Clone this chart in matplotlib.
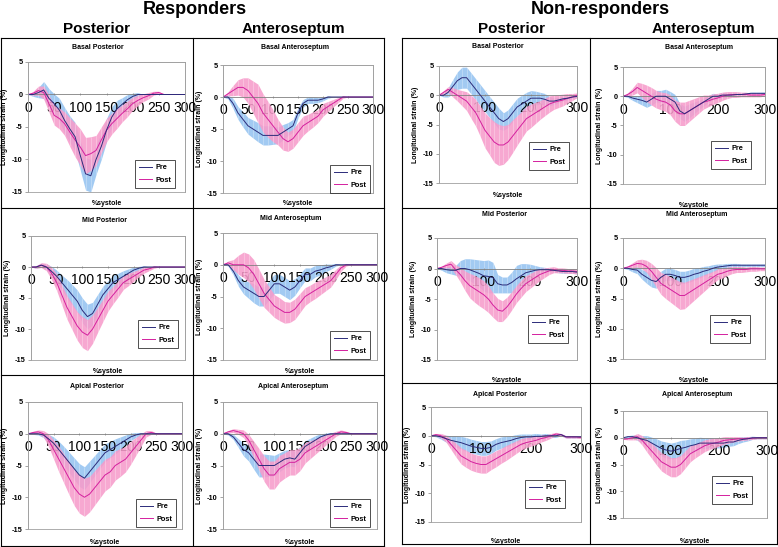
import matplotlib
matplotlib.use("Agg")
import matplotlib.pyplot as plt
from matplotlib.lines import Line2D
from matplotlib.patches import Rectangle

plt.rcParams['font.family'] = ['Liberation Sans', 'DejaVu Sans']

# % systole sample points
pct = [0, 10, 20, 30, 40, 50, 60, 70, 80, 90, 100, 110, 120, 130, 140, 150,
       160, 170, 180, 190, 200, 210, 220, 230, 240, 250, 260, 270, 280, 290, 300]

# ---------------- Responders ----------------
r_bp_pre = [0, 0, 0.3, 0.7, -0.6, -1.4, -2.4, -4, -5.3, -6.5, -9.4, -12.2, -12.5, -10, -8, -5.5,
            -3.5, -2.2, -1.5, -0.8, -0.3, 0, 0, 0, 0, 0, 0, 0, 0, 0, 0]
r_bp_pre_sd = [0, 0.3, 0.8, 1.3, 1.5, 1.5, 1.8, 2, 2, 2.2, 2.3, 2.5, 2.5, 2.3, 2, 1.8,
               1.6, 1.3, 1, 0.8, 0.5, 0.3, 0, 0, 0, 0, 0, 0, 0, 0, 0]
r_bp_post = [0, 0.2, 0.6, 0.3, -1.4, -3.2, -3.7, -4.5, -5.8, -7, -8.1, -9.4, -9.1, -8.6, -7, -5.5,
             -4.5, -3.7, -2.9, -2.2, -1.4, -0.9, -0.5, -0.2, 0.2, 0.3, 0, 0, 0, 0, 0]
r_bp_post_sd = [0, 0.3, 0.7, 1, 1.3, 1.5, 1.6, 1.8, 2.2, 2.6, 2.8, 2.8, 2.6, 2.3, 2, 1.8,
                1.6, 1.5, 1.3, 1.2, 1, 0.8, 0.6, 0.5, 0.3, 0.2, 0, 0, 0, 0, 0]

r_ba_pre = [0, 0, -1, -2.5, -3.5, -4.5, -5, -5.5, -6, -6, -6, -6, -5.5, -5, -4.5, -2.5,
            -1, -0.5, -0.5, -0.5, -0.3, 0, 0, 0, 0, 0, 0, 0, 0, 0, 0]
r_ba_pre_sd = [0, 0.3, 0.8, 1, 1.2, 1.3, 1.4, 1.5, 1.5, 1.5, 1.4, 1.3, 1.2, 1, 1, 0.8,
               0.6, 0.5, 0.5, 0.4, 0.3, 0.2, 0, 0, 0, 0, 0, 0, 0, 0, 0]
r_ba_post = [0, 0.5, 1, 1.5, 1.5, 1, 0, -1, -2.5, -3.5, -4.5, -5.5, -6.5, -7, -6.5, -5.5,
             -4.5, -4, -3.5, -3, -2, -1.5, -1, -0.5, 0, 0, 0, 0, 0, 0, 0]
r_ba_post_sd = [0, 0.3, 0.8, 1.2, 1.5, 2, 2.5, 3, 3, 2.8, 2.5, 2, 1.8, 1.5, 1.5, 1.5,
                1.5, 1.3, 1.2, 1, 1, 0.8, 0.6, 0.4, 0.2, 0, 0, 0, 0, 0, 0]

r_mp_pre = [0, 0, 0.3, 0, -0.7, -1.5, -2.5, -3.5, -4.5, -5.5, -7, -8, -7.5, -6, -4.5, -3.5,
            -2.5, -2, -1.5, -1, -0.5, -0.2, 0, 0, 0, 0, 0, 0, 0, 0, 0]
r_mp_pre_sd = [0, 0.2, 0.3, 0.5, 0.8, 1, 1.2, 1.5, 1.7, 1.8, 2, 2, 1.8, 1.6, 1.4, 1.3,
               1.2, 1, 0.9, 0.7, 0.5, 0.3, 0.2, 0, 0, 0, 0, 0, 0, 0, 0]
r_mp_post = [0, 0, 0.3, 0, -1, -2.5, -4.5, -6.5, -8, -9.5, -10.5, -11, -10, -8.5, -7, -5.5,
             -4.5, -3.5, -2.5, -2, -1.5, -1, -0.5, -0.3, 0, 0, 0, 0, 0, 0, 0]
r_mp_post_sd = [0, 0.2, 0.4, 0.6, 1, 1.3, 1.6, 1.9, 2.1, 2.3, 2.5, 2.5, 2.3, 2, 1.8, 1.6,
                1.4, 1.3, 1.1, 1, 0.8, 0.6, 0.5, 0.3, 0.2, 0, 0, 0, 0, 0, 0]

r_ma_pre = [0, 0, -1, -2.5, -3.5, -4, -4.5, -5, -5, -4, -3, -3, -3.5, -4, -3.5, -2.5,
            -1.5, -1.5, -1, -0.8, -0.5, -0.3, 0, 0, 0, 0, 0, 0, 0, 0, 0]
r_ma_pre_sd = [0, 0.2, 0.6, 0.9, 1.1, 1.3, 1.5, 1.5, 1.5, 1.5, 1.5, 1.5, 1.5, 1.5, 1.3, 1.1,
               1, 1, 0.9, 0.8, 0.6, 0.4, 0.2, 0, 0, 0, 0, 0, 0, 0, 0]
r_ma_post = [0, 0.3, 0, 0, 0, -0.5, -1.5, -3, -4.5, -5.5, -6.5, -7, -7.5, -7.5, -7, -6,
             -5, -4.5, -4, -3.5, -3, -2.5, -1.5, -0.5, 0, 0, 0, 0, 0, 0, 0]
r_ma_post_sd = [0, 0.3, 0.8, 1.5, 2, 2.2, 2.3, 2.3, 2.2, 2, 1.8, 1.8, 1.7, 1.6, 1.6, 1.5,
                1.4, 1.3, 1.3, 1.2, 1.1, 1, 0.8, 0.5, 0.2, 0, 0, 0, 0, 0, 0]

r_ap_pre = [0, 0, 0, -0.2, -0.8, -1.5, -2.5, -3.5, -4.5, -5.5, -6.5, -7, -6, -5, -4, -3,
            -2.5, -2, -1.5, -1, -0.5, -0.2, 0, 0, 0, 0, 0, 0, 0, 0, 0]
r_ap_pre_sd = [0, 0.1, 0.2, 0.4, 0.7, 1, 1.3, 1.5, 1.6, 1.7, 1.8, 1.8, 1.7, 1.6, 1.5, 1.4,
               1.3, 1.2, 1, 0.8, 0.6, 0.4, 0.2, 0, 0, 0, 0, 0, 0, 0, 0]
r_ap_post = [0, 0.2, 0.3, 0, -1, -2.5, -4, -5.5, -7, -8.5, -9.5, -10, -9.5, -8.5, -7.5, -6.5,
             -6, -5, -4.5, -4, -3, -2, -1, 0, 0.2, 0, 0, 0, 0, 0, 0]
r_ap_post_sd = [0, 0.2, 0.3, 0.5, 1, 1.5, 2, 2.3, 2.6, 2.8, 3, 3, 2.8, 2.7, 2.6, 2.5,
                2.4, 2.3, 2.2, 2, 1.8, 1.4, 1, 0.5, 0.3, 0.1, 0, 0, 0, 0, 0]

r_aa_pre = [0, 0, -0.5, -1.5, -2.5, -3, -4, -5, -5, -5, -5, -4.5, -4, -3.8, -4, -3,
            -2, -1.5, -1, -0.5, -0.2, 0, 0, 0, 0, 0, 0, 0, 0, 0, 0]
r_aa_pre_sd = [0, 0.2, 0.4, 0.7, 1, 1.3, 1.6, 1.8, 1.8, 1.7, 1.6, 1.5, 1.4, 1.3, 1.2, 1,
               0.9, 0.8, 0.7, 0.5, 0.3, 0.2, 0, 0, 0, 0, 0, 0, 0, 0, 0]
r_aa_post = [0, 0.3, 0.5, 0.3, 0, -1, -2.5, -4, -5.5, -6.5, -6.5, -5.5, -5, -4.5, -4.5, -4,
             -3, -2.5, -2, -1.5, -1, -0.5, 0, 0.3, 0.2, 0, 0, 0, 0, 0, 0]
r_aa_post_sd = [0, 0.2, 0.3, 0.4, 0.6, 0.9, 1.3, 1.7, 2, 2.2, 2.2, 2.1, 2, 2, 2, 1.8,
                1.6, 1.4, 1.2, 1, 0.8, 0.6, 0.4, 0.3, 0.2, 0, 0, 0, 0, 0, 0]

# ---------------- Non-responders ----------------
n_bp_pre = [0, 0, 0.5, 1.5, 2.5, 3, 3, 2, 1, 0, -1, -2, -3, -4, -4.5, -4,
            -3, -2, -1.5, -1, -0.5, -0.5, -0.5, -0.7, -1, -1, -0.8, -0.6, -0.5, -0.3, -0.2]
n_bp_pre_sd = [0, 0.3, 0.8, 1.2, 1.5, 1.8, 1.8, 1.8, 1.8, 1.8, 1.8, 1.8, 1.8, 1.8, 1.5, 1.5,
               1.5, 1.5, 1.5, 1.5, 1.3, 1.2, 1, 1, 0.8, 0.6, 0.5, 0.4, 0.3, 0.2, 0.2]
n_bp_post = [0, 0.5, 1, 0.5, 0, -0.5, -1, -2, -3, -4.5, -6, -7, -8, -8.5, -8.5, -8,
             -7, -6, -5, -4, -3.5, -3, -2.5, -2, -1.5, -1.2, -1, -0.8, -0.5, -0.3, 0]
n_bp_post_sd = [0, 0.3, 0.5, 0.8, 1, 1.3, 1.6, 2, 2.3, 2.6, 3, 3.2, 3.5, 3.5, 3.3, 3,
                2.8, 2.5, 2.3, 2.1, 2, 1.8, 1.6, 1.5, 1.4, 1.2, 1.1, 1, 0.8, 0.6, 0.4]

n_ba_pre = [0, 0, -0.3, -0.5, -0.7, -1, -0.5, 0, 0, 0, -0.5, -1, -2.5, -3, -2.5, -2,
            -1.5, -1, -0.5, 0, 0, 0.2, 0.2, 0.2, 0.3, 0.3, 0.4, 0.5, 0.5, 0.5, 0.5]
n_ba_pre_sd = [0, 0.2, 0.4, 0.6, 0.8, 0.9, 1, 1, 1, 1.2, 1.3, 1.3, 1.3, 1.3, 1.2, 1,
               0.8, 0.7, 0.6, 0.5, 0.4, 0.4, 0.3, 0.3, 0.3, 0.2, 0.2, 0.2, 0.2, 0.2, 0.2]
n_ba_post = [0, 0.3, 0.8, 1.5, 1, 0.5, 0, -0.5, -0.8, -1, -1.5, -2.5, -3, -3, -2.5, -2,
             -1.5, -1, -0.8, -0.5, -0.3, 0, 0.2, 0.3, 0.3, 0.3, 0.3, 0.2, 0.2, 0.2, 0.3]
n_ba_post_sd = [0, 0.3, 0.6, 0.9, 1.2, 1.4, 1.5, 1.5, 1.5, 1.6, 1.7, 1.8, 2, 2, 1.8, 1.6,
                1.4, 1.2, 1, 0.9, 0.8, 0.7, 0.6, 0.5, 0.5, 0.4, 0.4, 0.3, 0.3, 0.3, 0.2]

n_mp_pre = [0, 0, -0.2, -0.3, -0.3, 0, 0, -0.2, -0.5, -0.8, -1.2, -1.3, -1.5, -2.5, -2.7, -2.7,
            -2.3, -1.7, -1.2, -0.7, -0.5, -0.3, -0.2, -0.2, -0.2, -0.3, -0.4, -0.5, -0.5, -0.5, -0.6]
n_mp_pre_sd = [0, 0.3, 0.5, 0.6, 0.8, 1.3, 1.6, 1.8, 2, 2.2, 2.5, 2.7, 2.5, 1.5, 1.3, 1.3,
               1.7, 2.2, 2, 1.5, 1.2, 0.8, 0.5, 0.4, 0.3, 0.3, 0.3, 0.3, 0.3, 0.3, 0.3]
n_mp_post = [0, 0.2, 0.5, 0.7, -0.2, -1, -2, -2.8, -3.3, -3.8, -4.3, -5, -6, -6.8, -7, -6.3,
             -5.3, -4.2, -3.3, -2.5, -2, -1.5, -1, -0.7, -0.4, -0.2, -0.3, -0.3, -0.4, -0.4, -0.5]
n_mp_post_sd = [0, 0.2, 0.4, 0.6, 0.8, 1.2, 1.6, 2, 2.2, 2.3, 2.3, 2.2, 2, 1.9, 1.7, 1.6,
                1.5, 1.4, 1.4, 1.3, 1.2, 1.1, 1, 0.8, 0.6, 0.5, 0.4, 0.4, 0.4, 0.4, 0.4]

n_ma_pre = [0, 0, -0.2, -0.3, -1, -1.5, -2, -2.2, -1.5, -1, -1, -1.2, -1.5, -1.5, -1.3, -1,
            -0.8, -0.5, -0.3, 0, 0.2, 0.3, 0.4, 0.5, 0.5, 0.5, 0.5, 0.5, 0.5, 0.5, 0.5]
n_ma_pre_sd = [0, 0.2, 0.4, 0.6, 0.8, 1, 1.1, 1.1, 1, 1, 1, 1, 1, 1, 1, 1,
               0.9, 0.8, 0.7, 0.6, 0.5, 0.4, 0.4, 0.3, 0.3, 0.2, 0.2, 0.2, 0.2, 0.2, 0.2]
n_ma_post = [0, 0.2, 0.5, 0.8, 0.7, 0.3, -0.5, -1.5, -2.5, -3, -3.5, -4, -4.5, -4.5, -4, -3.5,
             -3, -2.5, -2, -1.5, -1, -0.8, -0.5, -0.3, -0.2, -0.2, -0.2, -0.1, -0.1, -0.1, -0.1]
n_ma_post_sd = [0, 0.2, 0.4, 0.6, 0.8, 1, 1.3, 1.6, 1.8, 2, 2.1, 2.2, 2.3, 2.2, 2, 1.8,
                1.6, 1.4, 1.2, 1, 0.9, 0.8, 0.7, 0.6, 0.5, 0.5, 0.4, 0.4, 0.4, 0.3, 0.3]

n_ap_pre = [0, 0, -0.2, -0.5, -0.8, -1, -1.2, -1.5, -1.8, -2, -2.2, -2.2, -2, -1.5, -1.2, -1,
            -0.8, -0.5, -0.3, -0.2, -0.2, -0.1, -0.1, 0, 0, 0, 0.2, -0.2, -0.2, -0.2, -0.2]
n_ap_pre_sd = [0, 0.2, 0.4, 0.6, 0.8, 1, 1.1, 1.2, 1.2, 1.2, 1.2, 1.2, 1.1, 1, 1, 0.9,
               0.8, 0.7, 0.6, 0.5, 0.5, 0.5, 0.4, 0.4, 0.3, 0.3, 0.2, 0.2, 0.2, 0.2, 0.2]
n_ap_post = [0, 0.2, 0, -0.5, -1.5, -2.5, -3.5, -4, -4.5, -4.8, -5, -5, -4.5, -4, -3.5, -3,
             -2.5, -2, -1.5, -1.2, -1, -0.8, -0.5, -0.3, 0, 0.3, 0.2, -0.2, -0.2, -0.2, -0.3]
n_ap_post_sd = [0, 0.2, 0.4, 0.6, 0.9, 1.2, 1.4, 1.5, 1.5, 1.5, 1.5, 1.5, 1.4, 1.4, 1.3, 1.3,
                1.2, 1.1, 1, 0.9, 0.8, 0.7, 0.6, 0.5, 0.4, 0.3, 0.2, 0.2, 0.2, 0.2, 0.2]

n_aa_pre = [0, 0.2, 0.2, 0, -0.3, -0.5, -1, -1.5, -2, -2.3, -2.5, -2.3, -2, -1.8, -1.5, -1.3,
            -1, -1, -1, -1, -1, -1, -0.8, -0.8, -0.5, -0.3, -0.2, 0, 0, 0, 0]
n_aa_pre_sd = [0, 0.2, 0.3, 0.5, 0.7, 0.9, 1.1, 1.3, 1.4, 1.5, 1.5, 1.5, 1.5, 1.4, 1.3, 1.2,
               1.1, 1, 1, 0.9, 0.9, 0.8, 0.8, 0.7, 0.6, 0.5, 0.4, 0.3, 0.2, 0.2, 0.2]
n_aa_post = [-0.3, -0.2, 0, 0.2, -0.5, -1.5, -2.5, -3.5, -4.5, -5, -5.5, -5.5, -5, -4, -3, -2.5,
             -2, -1.5, -1.2, -1, -0.8, -0.5, -0.4, -0.3, -0.2, -0.2, -0.1, -0.1, 0, 0, 0]
n_aa_post_sd = [0, 0.2, 0.4, 0.6, 0.9, 1.2, 1.4, 1.6, 1.7, 1.8, 1.8, 1.8, 1.7, 1.6, 1.5, 1.3,
                1.2, 1.1, 1, 0.9, 0.8, 0.7, 0.6, 0.5, 0.4, 0.3, 0.3, 0.2, 0.2, 0.2, 0.2]

titles = ["Basal Posterior", "Basal Anteroseptum", "Mid Posterior", "Mid Anteroseptum",
          "Apical Posterior", "Apical Anteroseptum"]
resp_ticks = [0, 50, 100, 150, 200, 250, 300]
nonresp_ticks = [0, 100, 200, 300]
y_ticks = [5, 0, -5, -10, -15]

PRE_LINE = '#2B2B7A'
POST_LINE = '#D4209E'
PRE_BAND = '#9DC8F2'
POST_BAND = '#F79CCB'

W, H = 778, 547
fig = plt.figure(figsize=(W / 100, H / 100), dpi=100)


def fx(px):
    return px / W


def fy(py):
    return 1 - py / H


# panels: (title, pre, pre_sd, post, post_sd, ticks, axes px box, title px, xlabel py, legend px center)
panels = [
    (titles[0], r_bp_pre, r_bp_pre_sd, r_bp_post, r_bp_post_sd, resp_ticks, (28, 62, 185, 192), (98, 48), 200, (155, 174)),
    (titles[1], r_ba_pre, r_ba_pre_sd, r_ba_post, r_ba_post_sd, resp_ticks, (223, 65, 373, 193), (295, 48), 200, (350, 179)),
    (titles[2], r_mp_pre, r_mp_pre_sd, r_mp_post, r_mp_post_sd, resp_ticks, (31, 236, 185, 360), (105, 220), 368, (158, 334)),
    (titles[3], r_ma_pre, r_ma_pre_sd, r_ma_post, r_ma_post_sd, resp_ticks, (223, 233, 377, 360), (291, 219), 368, (350, 345)),
    (titles[4], r_ap_pre, r_ap_pre_sd, r_ap_post, r_ap_post_sd, resp_ticks, (28, 402, 182, 529), (97, 387), 539, (156, 513)),
    (titles[5], r_aa_pre, r_aa_pre_sd, r_aa_post, r_aa_post_sd, resp_ticks, (223, 402, 377, 529), (293, 387), 539, (350, 513)),
    (titles[0], n_bp_pre, n_bp_pre_sd, n_bp_post, n_bp_post_sd, nonresp_ticks, (439, 66, 577, 183), (498, 47), 192, (549, 156)),
    (titles[1], n_ba_pre, n_ba_pre_sd, n_ba_post, n_ba_post_sd, nonresp_ticks, (623, 67, 765, 184), (699, 48), 202, (731, 155)),
    (titles[2], n_mp_pre, n_mp_pre_sd, n_mp_post, n_mp_post_sd, nonresp_ticks, (437, 238, 577, 360), (505, 215), 377, (548, 329)),
    (titles[3], n_ma_pre, n_ma_pre_sd, n_ma_post, n_ma_post_sd, nonresp_ticks, (623, 238, 765, 359), (697, 215), 377, (730, 329)),
    (titles[4], n_ap_pre, n_ap_pre_sd, n_ap_post, n_ap_post_sd, nonresp_ticks, (431, 407, 581, 522), (500, 394), 538, (545, 494)),
    (titles[5], n_aa_pre, n_aa_pre_sd, n_aa_post, n_aa_post_sd, nonresp_ticks, (623, 411, 767, 518), (697, 395), 538, (732, 490)),
]

for (title, pre, pre_sd, post, post_sd, xt, box, tpos, xl_y, leg_c) in panels:
    x0, y0, x1, y1 = box
    ax = fig.add_axes([fx(x0), fy(y1), fx(x1) - fx(x0), fy(y0) - fy(y1)])
    pre_lo = [m - s for m, s in zip(pre, pre_sd)]
    pre_hi = [m + s for m, s in zip(pre, pre_sd)]
    post_lo = [m - s for m, s in zip(post, post_sd)]
    post_hi = [m + s for m, s in zip(post, post_sd)]
    ax.fill_between(pct, pre_lo, pre_hi, color=PRE_BAND, lw=0, alpha=0.95, zorder=1)
    ax.vlines(pct, pre_lo, pre_hi, color='white', lw=0.4, alpha=0.5, zorder=1.5)
    ax.fill_between(pct, post_lo, post_hi, color=POST_BAND, lw=0, alpha=0.88, zorder=2)
    ax.vlines(pct, post_lo, post_hi, color='white', lw=0.4, alpha=0.5, zorder=2.5)
    ax.plot(pct, pre, color=PRE_LINE, lw=0.7, zorder=4, label='Pre')
    ax.plot(pct, post, color=POST_LINE, lw=0.7, zorder=3, label='Post')
    ax.set_xlim(0, 300)
    ax.set_ylim(-15, 5)
    ax.set_xticks(xt)
    ax.set_yticks(y_ticks)
    ax.set_xticklabels([str(t) for t in xt], fontsize=5.3, fontweight='bold')
    ax.set_yticklabels([str(t) for t in y_ticks], fontsize=5.3, fontweight='bold')
    for s in ['top', 'right', 'left']:
        ax.spines[s].set_color('#A0A0A0')
        ax.spines[s].set_linewidth(0.6)
    ax.spines['bottom'].set_position(('data', 0))
    ax.spines['bottom'].set_color('#808080')
    ax.spines['bottom'].set_linewidth(0.6)
    ax.add_patch(Rectangle((0, 0), 1, 1, transform=ax.transAxes, fill=False,
                           edgecolor='#A0A0A0', lw=0.6, zorder=5, clip_on=False))
    ax.tick_params(axis='x', length=2, width=0.5, color='#808080', pad=3.5, direction='inout')
    ax.tick_params(axis='y', length=2, width=0.5, color='#808080', pad=2, direction='out')
    ax.set_ylabel('Longitudinal strain (%)', fontsize=5, fontweight='bold', labelpad=2.5)
    ax.set_xlabel('%systole', fontsize=5, fontweight='bold')
    ax.xaxis.set_label_coords(fx((x0 + x1) / 2), fy(xl_y), transform=fig.transFigure)
    fig.text(fx(tpos[0]), fy(tpos[1]), title, fontsize=5, fontweight='bold',
             ha='center', va='center')
    leg = ax.legend(loc='center', bbox_to_anchor=(fx(leg_c[0]), fy(leg_c[1])),
                    bbox_transform=fig.transFigure, fontsize=5.3, frameon=True,
                    fancybox=False, handlelength=1.8, handletextpad=0.4,
                    borderpad=0.6, labelspacing=0.7, borderaxespad=0)
    leg.get_frame().set_edgecolor('black')
    leg.get_frame().set_linewidth(0.6)
    for t in leg.get_texts():
        t.set_fontweight('bold')

# Outer boxes
def box_lines(xs, ys):
    for x in xs:
        fig.add_artist(Line2D([fx(x), fx(x)], [fy(ys[0]), fy(ys[-1])], color='black', lw=0.8))
    for y in ys:
        fig.add_artist(Line2D([fx(xs[0]), fx(xs[-1])], [fy(y), fy(y)], color='black', lw=0.8))

box_lines([1, 193, 384], [38, 208, 375, 546])
box_lines([402, 590, 777], [38, 208, 383, 544])

# Headings
fig.text(fx(195), fy(9), 'Responders', fontsize=13, fontweight='bold', ha='center', va='center')
fig.text(fx(600), fy(9), 'Non-responders', fontsize=13, fontweight='bold', ha='center', va='center')
fig.text(fx(97), fy(29), 'Posterior', fontsize=11, fontweight='bold', ha='center', va='center')
fig.text(fx(293), fy(29), 'Anteroseptum', fontsize=11, fontweight='bold', ha='center', va='center')
fig.text(fx(512), fy(29), 'Posterior', fontsize=11, fontweight='bold', ha='center', va='center')
fig.text(fx(703), fy(29), 'Anteroseptum', fontsize=11, fontweight='bold', ha='center', va='center')

fig.savefig('out.png', dpi=100)
